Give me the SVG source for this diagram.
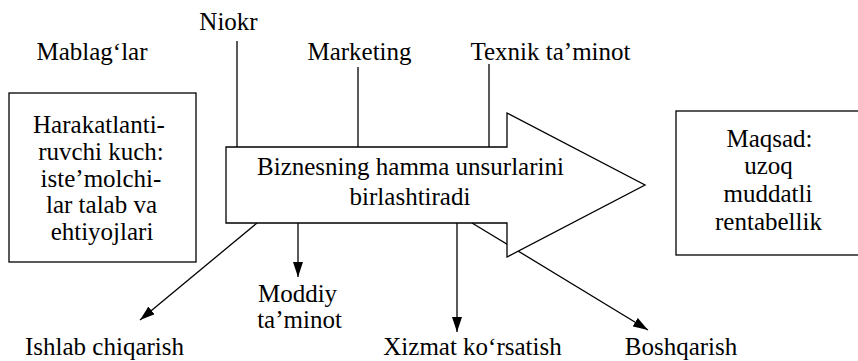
<svg xmlns="http://www.w3.org/2000/svg" width="858" height="361" viewBox="0 0 858 361">
  <defs>
    <marker id="head" viewBox="0 0 15 10" refX="15" refY="5" markerWidth="15" markerHeight="10" markerUnits="userSpaceOnUse" orient="auto">
      <path d="M0,0 L15,5 L0,10 Z" fill="#000"/>
    </marker>
  </defs>
  <rect width="858" height="361" fill="#fff"/>

  <!-- shared outline look: white fill, thin black stroke -->
  <g fill="#fff" stroke="#000" stroke-width="1.3">
    <g id="connectors" fill="none">
      <line x1="237" y1="41" x2="237" y2="147"/>
      <line x1="358" y1="67" x2="358" y2="147"/>
      <line x1="489" y1="64" x2="489" y2="147"/>
      <line x1="257" y1="223" x2="140" y2="320" marker-end="url(#head)"/>
      <line x1="298" y1="223" x2="298" y2="277" marker-end="url(#head)"/>
      <line x1="457" y1="223" x2="457" y2="332" marker-end="url(#head)"/>
      <line x1="472" y1="223" x2="648" y2="330" marker-end="url(#head)"/>
    </g>
    <rect id="driver-box" x="9" y="93" width="187" height="169"/>
    <path id="business-arrow" d="M226,147 H507 V113 L645,185 L507,257 V223 H226 Z"/>
    <rect id="goal-box" x="676" y="111" width="190" height="144"/>
  </g>

  <g id="driver">
    <text font-family="Liberation Serif" font-size="25" text-anchor="middle" x="99" y="133">Harakatlanti-</text>
    <text font-family="Liberation Serif" font-size="25" text-anchor="middle" x="101" y="160">ruvchi kuch:</text>
    <text font-family="Liberation Serif" font-size="25" text-anchor="middle" x="101" y="187">iste’molchi-</text>
    <text font-family="Liberation Serif" font-size="25" text-anchor="middle" x="101.5" y="213">lar talab va</text>
    <text font-family="Liberation Serif" font-size="25" text-anchor="middle" x="102" y="240">ehtiyojlari</text>
  </g>

  <g id="business">
    <text font-family="Liberation Serif" font-size="25" text-anchor="middle" x="410.5" y="175">Biznesning hamma unsurlarini</text>
    <text font-family="Liberation Serif" font-size="25" text-anchor="middle" x="410" y="205">birlashtiradi</text>
  </g>

  <g id="goal">
    <text font-family="Liberation Serif" font-size="25" text-anchor="middle" x="769.5" y="147">Maqsad:</text>
    <text font-family="Liberation Serif" font-size="25" text-anchor="middle" x="768.5" y="174">uzoq</text>
    <text font-family="Liberation Serif" font-size="25" text-anchor="middle" x="768" y="202">muddatli</text>
    <text font-family="Liberation Serif" font-size="25" text-anchor="middle" x="768.5" y="230">rentabellik</text>
  </g>

  <g id="mablag">
    <text font-family="Liberation Serif" font-size="25" text-anchor="middle" x="92" y="60">Mablag‘lar</text>
  </g>
  <g id="niokr">
    <text font-family="Liberation Serif" font-size="25" text-anchor="middle" x="228.5" y="30">Niokr</text>
  </g>
  <g id="marketing">
    <text font-family="Liberation Serif" font-size="25" text-anchor="middle" x="359.5" y="60">Marketing</text>
  </g>
  <g id="texnik">
    <text font-family="Liberation Serif" font-size="25" text-anchor="middle" x="550.5" y="60">Texnik ta’minot</text>
  </g>
  <g id="ishlab">
    <text font-family="Liberation Serif" font-size="25" text-anchor="middle" x="104.5" y="355">Ishlab chiqarish</text>
  </g>
  <g id="moddiy">
    <text font-family="Liberation Serif" font-size="25" text-anchor="middle" x="297.5" y="302">Moddiy</text>
    <text font-family="Liberation Serif" font-size="25" text-anchor="middle" x="299.5" y="328">ta’minot</text>
  </g>
  <g id="xizmat">
    <text font-family="Liberation Serif" font-size="25" text-anchor="middle" x="472.5" y="355">Xizmat ko‘rsatish</text>
  </g>
  <g id="boshqarish">
    <text font-family="Liberation Serif" font-size="25" text-anchor="middle" x="681" y="355">Boshqarish</text>
  </g>
</svg>
